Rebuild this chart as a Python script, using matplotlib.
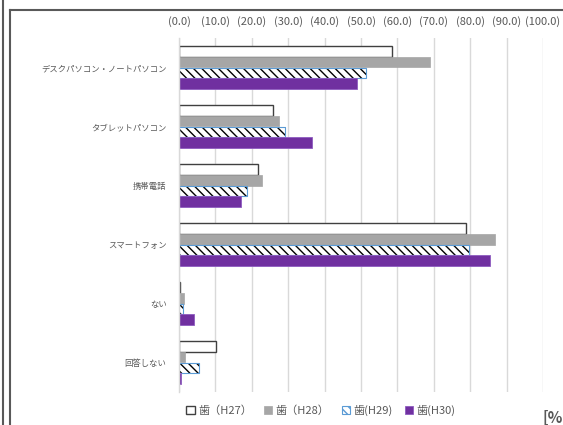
import matplotlib
matplotlib.use("Agg")
import matplotlib.pyplot as plt
from matplotlib.lines import Line2D
from matplotlib.patches import Patch
import numpy as np

plt.rcParams['font.family'] = ['Noto Sans CJK JP', 'DejaVu Sans']
plt.rcParams['hatch.linewidth'] = 1.0

categories = ["デスクパソコン・ノートパソコン", "タブレットパソコン", "携帯電話",
              "スマートフォン", "ない", "回答しない"]
series_labels = ["歯（H27）", "歯（H28）", "歯(H29)", "歯(H30)"]
h27 = [58.4, 25.9, 21.6, 78.9, 0.4, 10.3]
h28 = [68.9, 27.4, 22.9, 86.8, 1.3, 1.7]
h29 = [51.3, 29.0, 18.6, 79.7, 1.2, 5.4]
h30 = [48.8, 36.6, 17.0, 85.5, 4.0, 0.6]
xticks = [0, 10, 20, 30, 40, 50, 60, 70, 80, 90, 100]

text_color = "#595959"

fig = plt.figure(figsize=(5.63, 4.25), dpi=100)
ax = fig.add_axes([179 / 563, 1 - 392 / 425, 364 / 563, 354 / 425])

y = np.arange(len(categories))
bh = 0.178
styles = [
    dict(facecolor="white", edgecolor="#404040", linewidth=1.0),
    dict(facecolor="#a6a6a6", edgecolor="#a6a6a6", linewidth=0.5),
    dict(facecolor="white", edgecolor="#5b9bd5", linewidth=0.8, hatch="\\\\\\\\"),
    dict(facecolor="#7030a0", edgecolor="#8e5cc0", linewidth=0.6),
]
for i, (vals, st) in enumerate(zip([h27, h28, h29, h30], styles)):
    offs = (i - 1.5) * bh
    bars = ax.barh(y + offs, vals, height=bh, label=series_labels[i], **st)
    if i == 2:
        for b in bars:
            b._hatch_color = matplotlib.colors.to_rgba("black")

ax.set_xlim(0, 100)
ax.set_ylim(len(categories) - 0.5, -0.5)
ax.set_yticks(y)
ax.set_yticklabels(categories)
ax.set_xticks(xticks)
ax.set_xticklabels([f"({v:.1f})" for v in xticks])
ax.xaxis.tick_top()
ax.tick_params(axis="x", length=0, pad=8, labelsize=8, labelcolor=text_color)
ax.tick_params(axis="y", length=0, pad=9, labelsize=6, labelcolor=text_color)
ax.grid(axis="x", color="#d9d9d9", linewidth=1)
ax.set_axisbelow(True)
for s in ["top", "right", "bottom"]:
    ax.spines[s].set_visible(False)
ax.spines["left"].set_color("#d9d9d9")
ax.spines["left"].set_linewidth(1)

# outer frame pieces
fig.add_artist(Line2D([2.5 / 563, 2.5 / 563], [0, 1], color="#595959", lw=1.5))
fig.add_artist(Line2D([9.5 / 563, 9.5 / 563], [0, 1 - 10 / 425], color="#595959", lw=1.5))
fig.add_artist(Line2D([9.5 / 563, 1], [1 - 10 / 425, 1 - 10 / 425], color="#595959", lw=1.5))

handles = [Patch(**st) for st in styles]
leg = fig.legend(handles, series_labels, loc="center", ncol=4,
                 bbox_to_anchor=(321 / 563, 1 - 410 / 425), frameon=False,
                 fontsize=8, handlelength=0.75, handleheight=0.75,
                 handletextpad=0.3, columnspacing=1.1)
for t in leg.get_texts():
    t.set_color(text_color)

fig.text(542 / 563, 1 - 418 / 425, "[%]", ha="left", va="center",
         fontsize=11, color=text_color, fontweight="bold")

fig.savefig("out.png", dpi=100)
